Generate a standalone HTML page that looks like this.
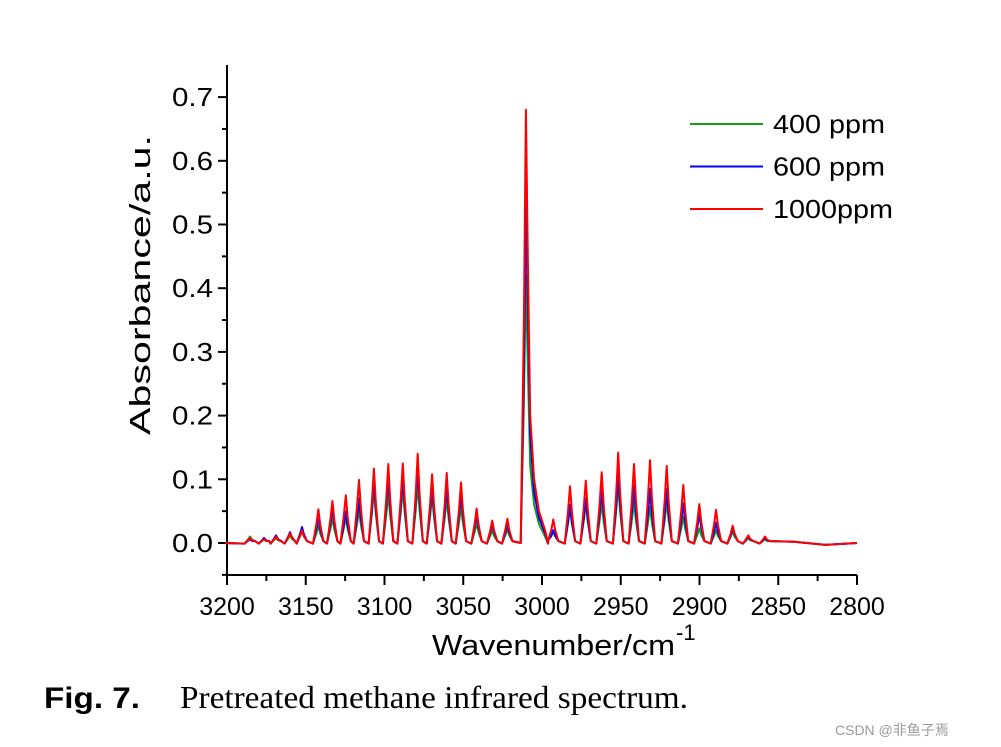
<!DOCTYPE html>
<html><head><meta charset="utf-8"><style>
body{margin:0;background:#fff;width:1001px;height:747px;overflow:hidden}
svg{position:absolute;left:0;top:0}
text{font-family:"Liberation Sans","DejaVu Sans",sans-serif}
</style></head><body>
<svg id="chart" width="1001" height="747" xmlns="http://www.w3.org/2000/svg"></svg>
<script>
const yTicks=["0.0","0.1","0.2","0.3","0.4","0.5","0.6","0.7"];
const xTicks=["3200","3150","3100","3050","3000","2950","2900","2850","2800"];
const seriesNames=["400 ppm","600 ppm","1000ppm"];
const peakCenters=[3185.4,3176.5,3168.9,3160,3152.4,3142,3133.1,3124.6,3116.2,3106.7,3097.6,3088.4,3078.9,3069.8,3060.5,3051.4,3041.5,3031.6,3022.0,2992.8,2982.2,2972.2,2962.1,2951.6,2941.6,2931.4,2920.8,2910.3,2900.1,2889.5,2878.9,2869.0,2858.4];
const peakRed=[0.008,0.006,0.01,0.015,0.02,0.053,0.066,0.075,0.099,0.117,0.124,0.125,0.140,0.108,0.110,0.095,0.054,0.035,0.038,0.037,0.089,0.098,0.111,0.142,0.124,0.130,0.121,0.091,0.061,0.052,0.027,0.012,0.010];
const peakBlue=[0.006,0.008,0.012,0.017,0.025,0.04,0.055,0.05,0.07,0.1,0.105,0.105,0.12,0.09,0.09,0.08,0.045,0.03,0.03,0.02,0.06,0.07,0.085,0.11,0.09,0.085,0.085,0.062,0.045,0.032,0.024,0.01,0.008];
const peakGreen=[0.01,0.006,0.008,0.012,0.018,0.027,0.039,0.041,0.052,0.083,0.078,0.086,0.093,0.074,0.071,0.058,0.031,0.020,0.022,0.02,0.055,0.063,0.063,0.091,0.065,0.057,0.065,0.041,0.023,0.020,0.018,0.008,0.006];
const mainWn=[3013.5,3011.5,3010.2,3009,3007.5,3005,3002,2998,2996];
const mainRed=[0,0.35,0.68,0.45,0.2,0.1,0.05,0.02,0.005];
const mainBlue=[0,0.28,0.535,0.38,0.17,0.08,0.04,0.015,0.005];
const mainGreen=[0,0.22,0.42,0.28,0.12,0.06,0.03,0.01,0.005];
const colors=["#1a9a1a","#0000ff","#ff0000"];

const svg=document.getElementById('chart');const NS="http://www.w3.org/2000/svg";
const X0=227,X1=857,Y0=543,PY=637;
const xs=w=>X0+(3200-w)*(X1-X0)/400;
const ys=v=>Y0-v*PY;
function mk(t,a,txt){const e=document.createElementNS(NS,t);for(const k in a)e.setAttribute(k,a[k]);if(txt!==undefined)e.textContent=txt;svg.appendChild(e);return e;}
let e=mk('line',{x1:X0,y1:65,x2:X0,y2:575,stroke:'#000','stroke-width':2});


e=mk('line',{x1:X0-1,y1:575,x2:X1,y2:575,stroke:'#000','stroke-width':2});


for(let i=-1;i<15;i++){const v=i*0.05,y=ys(v);if(y<64)continue;const maj=i%2===0;
 mk('line',{x1:X0-(maj?9:5),y1:y,x2:X0,y2:y,stroke:'#000','stroke-width':2});}
yTicks.forEach(t=>{e=mk('text',{x:X0-14,y:ys(+t)+9,'text-anchor':'end','font-size':26,textLength:41,lengthAdjust:'spacingAndGlyphs'},t);
 
 });
for(let w=3200;w>=2800;w-=25){const x=xs(w),maj=w%50===0;
 mk('line',{x1:x,y1:575,x2:x,y2:575+(maj?10:6),stroke:'#000','stroke-width':2});}
xTicks.forEach(t=>{e=mk('text',{x:xs(+t),y:615,'text-anchor':'middle','font-size':25},t);
 
 });
e=mk('text',{x:0,y:0,transform:'translate(150,285) rotate(-90)','text-anchor':'middle','font-size':29,textLength:300,lengthAdjust:'spacingAndGlyphs'},'Absorbance/a.u.');


e=mk('text',{x:432,y:655,'font-size':29,textLength:243,lengthAdjust:'spacingAndGlyphs'},'Wavenumber/cm');


mk('text',{x:676,y:640,'font-size':22},'-1');
const sets=[[peakGreen,mainGreen],[peakBlue,mainBlue],[peakRed,mainRed]];
sets.forEach((s,si)=>{const pts=[[3201,0]];
 peakCenters.forEach((c,i)=>{if(c<3000&&pts[pts.length-1][0]>3000){mainWn.forEach((w,j)=>pts.push([w,s[1][j]]));}
  const h=s[0][i];
  pts.push([c+3.4,-0.001],[c+1.3,h*0.55],[c,h],[c-1.2,h*0.55],[c-3.2,0.003]);});
 pts.push([2840,0.002],[2820,-0.003],[2800,0]);
 pts.sort((a,b)=>b[0]-a[0]);
 e=mk('polyline',{points:pts.map(p=>xs(p[0]).toFixed(1)+','+ys(p[1]).toFixed(1)).join(' '),fill:'none',stroke:colors[si],'stroke-width':2,'stroke-linejoin':'round'});
 
 });
const legW=[112,112,120];
seriesNames.forEach((n,i)=>{const y=124+i*42.5;
 e=mk('line',{x1:690,y1:y,x2:763,y2:y,stroke:colors[i],'stroke-width':2});
 
 
 e=mk('text',{x:773,y:y+9,'font-size':26,textLength:legW[i],lengthAdjust:'spacingAndGlyphs'},n);
 
 });
e=mk('text',{x:44,y:708,'font-size':30,'font-weight':'bold',textLength:96,lengthAdjust:'spacingAndGlyphs'},'Fig. 7.');


e=mk('text',{x:180,y:708,'font-size':32,textLength:508,lengthAdjust:'spacingAndGlyphs',style:'font-family:"Liberation Serif",serif'},'Pretreated methane infrared spectrum.');


e=mk('text',{x:835,y:735,'font-size':14,fill:'#999',style:'font-family:"Liberation Sans","Noto Sans CJK SC",sans-serif'},'CSDN @非鱼子焉');


</script>
</body></html>
